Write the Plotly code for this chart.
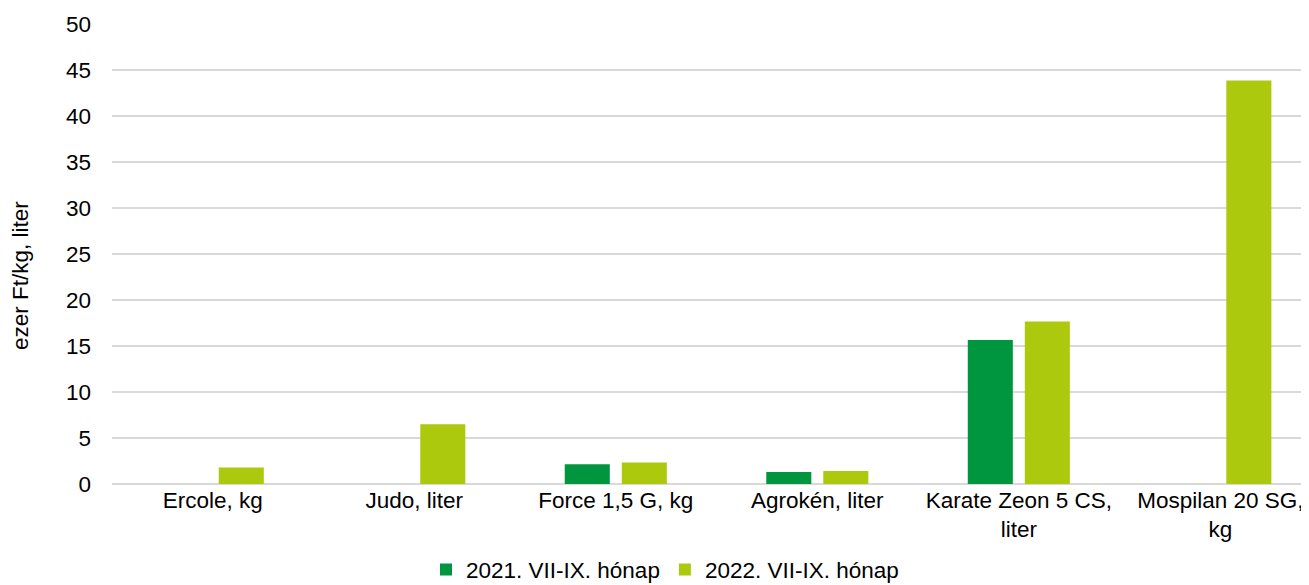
import plotly.graph_objects as go

categories = ["Ercole, kg", "Judo, liter", "Force 1,5 G, kg", "Agrokén, liter",
              "Karate Zeon 5 CS,<br>liter", "Mospilan 20 SG,<br>kg"]
series_2021 = [None, None, 2.15, 1.3, 15.65, None]
series_2022 = [1.8, 6.5, 2.35, 1.4, 17.65, 43.85]
names = ["2021. VII-IX. hónap", "2022. VII-IX. hónap"]
colors = ["#00953F", "#ADC90E"]

font = dict(family="Liberation Sans, Arial, sans-serif", size=22.5, color="#000000")

fig = go.Figure()
for vals, name, col in zip([series_2021, series_2022], names, colors):
    fig.add_trace(go.Bar(x=categories, y=vals, name=name, marker_color=col,
                         marker_line_width=0))

# page body adds an 8px offset, so size and margins are reduced by 8
fig.update_layout(
    width=1301, height=577,
    margin=dict(l=104, r=0, t=16, b=101),
    paper_bgcolor="white", plot_bgcolor="white",
    font=font,
    barmode="group", bargap=0.434, bargroupgap=0.21,
    showlegend=True,
    legend=dict(orientation="h", xref="container", yref="container",
                x=0.505, xanchor="center", y=0.026, yanchor="middle",
                font=font, itemwidth=30, tracegroupgap=0),
)
fig.update_xaxes(range=[-0.5, 5.44], showgrid=False, showline=False,
                 ticks="", tickfont=font)
fig.update_yaxes(range=[0, 50], dtick=5, showgrid=True, gridcolor="#D9D9D9",
                 gridwidth=1.5, zeroline=True, zerolinecolor="#D9D9D9",
                 zerolinewidth=1.5, showline=False, ticks="",
                 ticklabelstandoff=20, tickfont=font)

# y axis title, placed like the reference (slightly below the plot centre)
fig.add_annotation(text="ezer Ft/kg, liter", textangle=-90, font=font,
                   xref="paper", yref="paper", x=0, y=0.452,
                   xanchor="center", yanchor="middle", xshift=-92,
                   showarrow=False)

fig.write_html("out.html")
